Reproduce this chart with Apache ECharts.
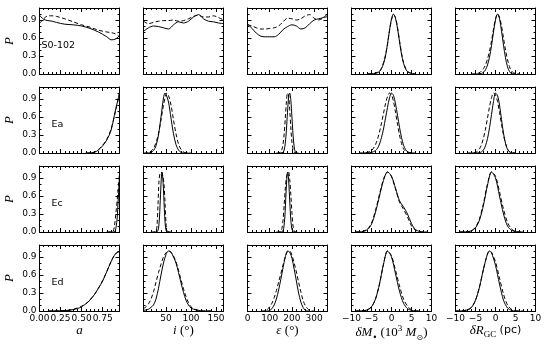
<!DOCTYPE html>
<html>
<head>
<meta charset="utf-8">
<script src="https://cdn.jsdelivr.net/npm/echarts@6/dist/echarts.min.js"></script>
<style>
  html, body { margin: 0; padding: 0; background: #fff; }
  #chart { width: 550px; height: 350px; }
</style>
</head>
<body>
<div id="chart"></div>
<script>
// 行标签
const rowNames = ['S0-102', 'Ea', 'Ec', 'Ed'];

// 各列坐标范围与刻度
const xMin = [0, 5, 0, -10, -10];
const xMax = [0.95, 165, 360, 10, 10];
const xTicks = [[0, 0.25, 0.5, 0.75], [50, 100, 150], [0, 100, 200, 300], [-10, -5, 0, 5, 10], [-10, -5, 0, 5, 10]];
const xMinorStep = [0.05, 10, 20, 1, 1];
const yTicks = [0, 0.3, 0.6, 0.9];
const yMinorStep = 0.1;

// S0-102
const s0_a_solid = [[0, 0.98], [0.05, 0.91], [0.1, 0.89], [0.15, 0.88], [0.2, 0.86], [0.3, 0.83], [0.4, 0.82], [0.5, 0.8], [0.6, 0.76], [0.7, 0.7], [0.8, 0.62], [0.85, 0.57], [0.9, 0.58], [0.95, 0.64]];
const s0_a_dash = [[0, 0.84], [0.05, 0.92], [0.1, 0.97], [0.15, 0.97], [0.2, 0.96], [0.3, 0.92], [0.4, 0.87], [0.5, 0.82], [0.6, 0.78], [0.7, 0.73], [0.8, 0.7], [0.85, 0.69], [0.9, 0.67], [0.95, 0.62]];
const s0_i_solid = [[5, 0.71], [15, 0.77], [25, 0.8], [35, 0.79], [45, 0.77], [55, 0.75], [65, 0.82], [75, 0.87], [85, 0.85], [95, 0.88], [105, 0.95], [115, 0.99], [125, 0.92], [135, 0.88], [145, 0.87], [155, 0.85], [165, 0.84]];
const s0_i_dash = [[5, 0.88], [15, 0.84], [25, 0.86], [35, 0.88], [45, 0.89], [55, 0.89], [65, 0.9], [75, 0.88], [85, 0.89], [95, 0.92], [105, 0.96], [115, 0.98], [125, 0.95], [135, 0.95], [145, 0.97], [155, 0.94], [165, 0.9]];
const s0_e_solid = [[0, 0.84], [20, 0.76], [40, 0.68], [60, 0.63], [80, 0.62], [100, 0.62], [120, 0.62], [140, 0.66], [160, 0.74], [180, 0.79], [200, 0.82], [220, 0.8], [240, 0.75], [260, 0.77], [280, 0.84], [300, 0.9], [320, 0.92], [340, 0.94], [360, 1.0]];
const s0_e_dash = [[0, 0.82], [20, 0.8], [40, 0.77], [60, 0.75], [80, 0.75], [100, 0.76], [120, 0.77], [140, 0.8], [160, 0.87], [180, 0.93], [200, 0.92], [220, 0.9], [240, 0.92], [260, 0.97], [280, 0.99], [300, 0.93], [320, 0.9], [340, 0.93], [360, 0.96]];
const s0_m_solid = [[-6, 0], [-5, 0.005], [-4, 0.01], [-3, 0.04], [-2.5, 0.09], [-2, 0.17], [-1.5, 0.3], [-1, 0.5], [-0.5, 0.73], [0, 0.92], [0.5, 1.0], [1, 0.93], [1.5, 0.76], [2, 0.54], [2.5, 0.33], [3, 0.18], [3.5, 0.09], [4, 0.04], [5, 0.01], [6, 0]];
const s0_m_dash = [[-6, 0], [-5, 0.005], [-4, 0.015], [-3, 0.05], [-2.5, 0.1], [-2, 0.19], [-1.5, 0.32], [-1, 0.5], [-0.5, 0.72], [0, 0.9], [0.5, 0.99], [1, 0.94], [1.5, 0.78], [2, 0.56], [2.5, 0.35], [3, 0.19], [3.5, 0.1], [4, 0.04], [5, 0.01], [6, 0]];
const s0_r_solid = [[-5, 0], [-4, 0.003], [-3.5, 0.01], [-3, 0.03], [-2.5, 0.07], [-2, 0.15], [-1.5, 0.28], [-1, 0.47], [-0.5, 0.7], [0, 0.9], [0.5, 1.0], [1, 0.92], [1.5, 0.72], [2, 0.48], [2.5, 0.27], [3, 0.12], [3.5, 0.04], [4, 0.01], [5, 0]];
const s0_r_dash = [[-6, 0], [-5, 0.005], [-4.5, 0.01], [-4, 0.02], [-3.5, 0.05], [-3, 0.09], [-2.5, 0.15], [-2, 0.25], [-1.5, 0.38], [-1, 0.55], [-0.5, 0.75], [0, 0.92], [0.5, 1.0], [1, 0.95], [1.5, 0.8], [2, 0.6], [2.5, 0.4], [3, 0.24], [3.5, 0.12], [4, 0.05], [4.5, 0.02], [5, 0.01], [6, 0]];

// Ea
const ea_a_solid = [[0.55, 0], [0.6, 0.002], [0.65, 0.01], [0.7, 0.05], [0.75, 0.12], [0.8, 0.22], [0.85, 0.38], [0.9, 0.7], [0.95, 1.0]];
const ea_a_dash = [[0.55, 0], [0.6, 0.003], [0.65, 0.015], [0.7, 0.06], [0.75, 0.13], [0.8, 0.23], [0.85, 0.4], [0.9, 0.68], [0.95, 0.99]];
const ea_i_solid = [[10, 0], [15, 0.002], [20, 0.01], [25, 0.04], [30, 0.12], [35, 0.3], [40, 0.6], [45, 0.92], [48, 1.0], [50, 0.98], [55, 0.85], [60, 0.58], [65, 0.32], [70, 0.14], [75, 0.05], [80, 0.01], [85, 0], [95, 0]];
const ea_i_dash = [[5, 0], [10, 0.003], [15, 0.01], [20, 0.03], [25, 0.08], [30, 0.17], [35, 0.33], [40, 0.55], [45, 0.8], [50, 0.98], [52, 1.0], [55, 0.96], [60, 0.8], [65, 0.55], [70, 0.32], [75, 0.15], [80, 0.06], [85, 0.02], [90, 0], [100, 0]];
const ea_e_solid = [[140, 0], [150, 0.002], [160, 0.01], [165, 0.05], [170, 0.16], [175, 0.38], [180, 0.68], [185, 0.93], [190, 1.0], [195, 0.88], [200, 0.6], [205, 0.3], [210, 0.1], [215, 0.02], [220, 0], [230, 0]];
const ea_e_dash = [[130, 0], [140, 0.002], [150, 0.02], [155, 0.06], [160, 0.15], [165, 0.32], [170, 0.58], [175, 0.85], [180, 1.0], [185, 0.95], [190, 0.72], [195, 0.42], [200, 0.18], [205, 0.06], [210, 0.01], [220, 0]];
const ea_m_solid = [[-7, 0], [-6, 0.003], [-5, 0.01], [-4, 0.04], [-3.5, 0.08], [-3, 0.15], [-2.5, 0.26], [-2, 0.4], [-1.5, 0.58], [-1, 0.76], [-0.5, 0.92], [0, 1.0], [0.5, 0.96], [1, 0.82], [1.5, 0.63], [2, 0.43], [2.5, 0.26], [3, 0.13], [3.5, 0.06], [4, 0.02], [5, 0.003], [6, 0]];
const ea_m_dash = [[-8, 0], [-7, 0.003], [-6, 0.01], [-5, 0.04], [-4.5, 0.08], [-4, 0.14], [-3.5, 0.23], [-3, 0.35], [-2.5, 0.5], [-2, 0.66], [-1.5, 0.82], [-1, 0.94], [-0.5, 1.0], [0, 0.97], [0.5, 0.86], [1, 0.68], [1.5, 0.48], [2, 0.3], [2.5, 0.16], [3, 0.07], [3.5, 0.03], [4, 0.01], [5, 0]];
const ea_r_solid = [[-6, 0], [-5, 0.002], [-4, 0.005], [-3.5, 0.02], [-3, 0.05], [-2.5, 0.12], [-2, 0.24], [-1.5, 0.42], [-1, 0.64], [-0.5, 0.86], [0, 1.0], [0.5, 0.96], [1, 0.8], [1.5, 0.56], [2, 0.33], [2.5, 0.16], [3, 0.06], [3.5, 0.02], [4, 0.003], [5, 0]];
const ea_r_dash = [[-7, 0], [-6, 0.003], [-5, 0.01], [-4.5, 0.03], [-4, 0.07], [-3.5, 0.14], [-3, 0.25], [-2.5, 0.4], [-2, 0.58], [-1.5, 0.77], [-1, 0.92], [-0.5, 1.0], [0, 0.97], [0.5, 0.86], [1, 0.68], [1.5, 0.48], [2, 0.3], [2.5, 0.16], [3, 0.07], [3.5, 0.02], [4, 0.01], [5, 0]];

// Ec
const ec_a_solid = [[0.8, 0], [0.88, 0], [0.9, 0.02], [0.92, 0.2], [0.935, 0.55], [0.95, 0.92]];
const ec_a_dash = [[0.8, 0], [0.86, 0], [0.875, 0.01], [0.89, 0.1], [0.91, 0.35], [0.93, 0.65], [0.95, 0.97]];
const ec_i_solid = [[25, 0], [30, 0], [33, 0.01], [35, 0.06], [37, 0.25], [39, 0.62], [41, 0.95], [42, 1.0], [43, 0.96], [45, 0.7], [47, 0.32], [49, 0.08], [51, 0.01], [55, 0], [60, 0]];
const ec_i_dash = [[20, 0], [26, 0], [30, 0.01], [32, 0.1], [34, 0.45], [36, 0.85], [38, 0.98], [40, 1.0], [42, 0.98], [44, 0.92], [46, 0.8], [48, 0.5], [50, 0.15], [52, 0.02], [56, 0], [60, 0]];
const ec_e_solid = [[140, 0], [150, 0], [158, 0.01], [163, 0.06], [168, 0.25], [173, 0.62], [178, 0.95], [181, 1.0], [184, 0.93], [189, 0.6], [194, 0.25], [199, 0.06], [204, 0.01], [210, 0], [220, 0]];
const ec_e_dash = [[130, 0], [140, 0], [150, 0.01], [155, 0.06], [160, 0.2], [165, 0.45], [170, 0.72], [175, 0.9], [180, 0.98], [185, 1.0], [190, 0.88], [195, 0.62], [200, 0.32], [205, 0.1], [210, 0.02], [215, 0], [225, 0]];
const ec_m_solid = [[-9, 0], [-8, 0.002], [-7, 0.01], [-6, 0.04], [-5, 0.13], [-4, 0.33], [-3, 0.6], [-2, 0.86], [-1, 1.0], [0, 0.93], [1, 0.73], [2, 0.52], [3, 0.42], [4, 0.3], [5, 0.14], [6, 0.04], [7, 0.01], [8, 0], [9, 0]];
const ec_m_dash = [[-9, 0], [-8, 0.003], [-7, 0.015], [-6, 0.05], [-5, 0.15], [-4, 0.36], [-3, 0.63], [-2, 0.88], [-1, 1.0], [0, 0.92], [1, 0.72], [2, 0.5], [3, 0.38], [4, 0.25], [5, 0.1], [6, 0.03], [7, 0.005], [8, 0]];
const ec_r_solid = [[-9, 0], [-8, 0.002], [-7, 0.005], [-6, 0.02], [-5, 0.07], [-4, 0.2], [-3, 0.45], [-2, 0.78], [-1, 1.0], [0, 0.9], [1, 0.6], [2, 0.3], [3, 0.1], [4, 0.03], [5, 0.005], [6, 0], [7, 0]];
const ec_r_dash = [[-9, 0], [-8, 0.002], [-7, 0.005], [-6, 0.02], [-5, 0.08], [-4, 0.22], [-3, 0.48], [-2, 0.8], [-1, 1.0], [0, 0.93], [1, 0.67], [2, 0.38], [3, 0.16], [4, 0.05], [5, 0.01], [6, 0], [7, 0]];

// Ed
const ed_a_solid = [[0.1, 0], [0.15, 0], [0.25, 0.003], [0.35, 0.01], [0.45, 0.04], [0.5, 0.07], [0.55, 0.12], [0.6, 0.18], [0.65, 0.27], [0.7, 0.38], [0.75, 0.5], [0.8, 0.66], [0.85, 0.82], [0.9, 0.95], [0.95, 1.0]];
const ed_a_dash = [[0.1, 0], [0.15, 0], [0.25, 0.005], [0.35, 0.015], [0.45, 0.05], [0.5, 0.08], [0.55, 0.12], [0.6, 0.19], [0.65, 0.27], [0.7, 0.38], [0.75, 0.51], [0.8, 0.66], [0.85, 0.83], [0.9, 0.95], [0.95, 0.99]];
const ed_i_solid = [[5, 0.01], [15, 0.03], [20, 0.06], [25, 0.1], [30, 0.2], [35, 0.38], [40, 0.6], [45, 0.8], [50, 0.94], [55, 1.0], [60, 0.98], [65, 0.9], [70, 0.8], [75, 0.64], [80, 0.47], [85, 0.31], [90, 0.18], [95, 0.1], [100, 0.05], [105, 0.03], [115, 0.01], [125, 0], [140, 0]];
const ed_i_dash = [[5, 0.04], [10, 0.07], [15, 0.12], [20, 0.2], [25, 0.32], [30, 0.48], [35, 0.64], [40, 0.78], [45, 0.9], [50, 0.97], [55, 1.0], [60, 0.98], [65, 0.92], [70, 0.82], [75, 0.68], [80, 0.52], [85, 0.37], [90, 0.24], [95, 0.14], [100, 0.07], [105, 0.04], [115, 0.01], [125, 0], [140, 0]];
const ed_e_solid = [[80, 0], [90, 0], [100, 0.01], [110, 0.04], [120, 0.1], [130, 0.2], [140, 0.35], [150, 0.53], [160, 0.72], [170, 0.9], [180, 1.0], [190, 0.98], [200, 0.88], [210, 0.7], [220, 0.5], [230, 0.3], [240, 0.15], [250, 0.06], [260, 0.015], [270, 0], [280, 0]];
const ed_e_dash = [[60, 0], [70, 0], [80, 0.01], [90, 0.03], [100, 0.07], [110, 0.13], [120, 0.22], [130, 0.34], [140, 0.48], [150, 0.62], [160, 0.77], [170, 0.9], [180, 0.99], [190, 1.0], [200, 0.93], [210, 0.8], [220, 0.65], [230, 0.48], [240, 0.32], [250, 0.18], [260, 0.09], [270, 0.04], [280, 0.01], [290, 0], [300, 0]];
const ed_m_solid = [[-9, 0], [-8, 0.002], [-7, 0.005], [-6, 0.02], [-5, 0.07], [-4, 0.2], [-3, 0.45], [-2, 0.78], [-1, 1.0], [0, 0.9], [1, 0.62], [2, 0.33], [3, 0.13], [4, 0.04], [5, 0.01], [6, 0], [7, 0]];
const ed_m_dash = [[-9, 0], [-8, 0.002], [-7, 0.005], [-6, 0.02], [-5, 0.07], [-4, 0.2], [-3, 0.45], [-2, 0.78], [-1, 1.0], [0, 0.92], [1, 0.68], [2, 0.42], [3, 0.2], [4, 0.08], [5, 0.02], [6, 0.003], [7, 0]];
const ed_r_solid = [[-10, 0], [-9, 0], [-8, 0.005], [-7, 0.02], [-6, 0.06], [-5, 0.18], [-4, 0.4], [-3, 0.7], [-2, 0.95], [-1.5, 1.0], [-1, 0.97], [0, 0.76], [1, 0.45], [2, 0.18], [3, 0.05], [4, 0.01], [5, 0], [6, 0]];
const ed_r_dash = [[-10, 0], [-9, 0], [-8, 0.005], [-7, 0.02], [-6, 0.06], [-5, 0.18], [-4, 0.4], [-3, 0.7], [-2, 0.95], [-1.5, 1.0], [-1, 0.98], [0, 0.82], [1, 0.55], [2, 0.28], [3, 0.1], [4, 0.03], [5, 0.005], [6, 0], [7, 0]];

const panels = [
  [[s0_a_solid, s0_a_dash], [s0_i_solid, s0_i_dash], [s0_e_solid, s0_e_dash], [s0_m_solid, s0_m_dash], [s0_r_solid, s0_r_dash]],
  [[ea_a_solid, ea_a_dash], [ea_i_solid, ea_i_dash], [ea_e_solid, ea_e_dash], [ea_m_solid, ea_m_dash], [ea_r_solid, ea_r_dash]],
  [[ec_a_solid, ec_a_dash], [ec_i_solid, ec_i_dash], [ec_e_solid, ec_e_dash], [ec_m_solid, ec_m_dash], [ec_r_solid, ec_r_dash]],
  [[ed_a_solid, ed_a_dash], [ed_i_solid, ed_i_dash], [ed_e_solid, ed_e_dash], [ed_m_solid, ed_m_dash], [ed_r_solid, ed_r_dash]]
];

// 坐标轴名称(富文本)
const xNames = [
  '{it|a}',
  '{it|i} {rm|(°)}',
  '{it|ε} {rm|(°)}',
  '{it|δM}{sub|•} {rm|(10}{sup|3} {it|M}{sub|⊙}{rm|)}',
  '{it|δR}{subrm|GC} {sans|(pc)}'
];
const nameRich = {
  it: { fontFamily: 'Liberation Serif', fontStyle: 'italic', fontSize: 13, color: '#000', lineHeight: 18 },
  rm: { fontFamily: 'Liberation Serif', fontSize: 13, color: '#000', lineHeight: 18 },
  sans: { fontFamily: 'DejaVu Sans', fontSize: 11, color: '#000', lineHeight: 18 },
  sub: { fontFamily: 'DejaVu Sans', fontSize: 8, color: '#000', verticalAlign: 'bottom' },
  subrm: { fontFamily: 'Liberation Serif', fontSize: 9, color: '#000', verticalAlign: 'bottom' },
  sup: { fontFamily: 'Liberation Serif', fontSize: 9, color: '#000', verticalAlign: 'top' }
};

function minorTicks(min, max, step, majors) {
  const out = [];
  for (let k = Math.ceil(min / step - 1e-9); k * step <= max + 1e-9; k++) {
    const v = Math.round(k * step * 1000) / 1000;
    if (!majors.some(m => Math.abs(m - v) < 1e-6)) out.push(v);
  }
  return out;
}

function fmtTick(c) {
  return function (v) {
    if (c === 0) return v.toFixed(2);
    return String(v).replace('-', '\u2212');
  };
}

function makeAxis(opts) {
  return {
    type: 'value',
    gridIndex: opts.grid,
    position: opts.position,
    min: opts.min,
    max: opts.max,
    axisLine: { show: opts.line, onZero: false, lineStyle: { color: '#000', width: 1 } },
    axisTick: { show: true, inside: true, length: opts.len, customValues: opts.ticks, lineStyle: { color: '#000', width: 1 } },
    axisLabel: opts.label ? {
      show: true,
      customValues: opts.ticks,
      formatter: opts.fmt,
      color: '#000',
      fontFamily: 'DejaVu Sans',
      fontSize: 9,
      margin: 3
    } : { show: false },
    splitLine: { show: false },
    name: opts.name || '',
    nameLocation: 'middle',
    nameGap: opts.nameGap || 0,
    nameRotate: opts.nameRotate,
    nameTextStyle: opts.nameStyle || {},
    silent: true
  };
}

const grids = [];
const xAxes = [];
const yAxes = [];
const series = [];
const texts = [];

const yMinor = minorTicks(0, 1.1, yMinorStep, yTicks);

for (let r = 0; r < 4; r++) {
  for (let c = 0; c < 5; c++) {
    const g = grids.length;
    const left = 39.5 + c * 104;
    const top = 8 + r * 79;
    grids.push({ left: left, top: top, width: 80, height: 66 });

    const xm = minorTicks(xMin[c], xMax[c], xMinorStep[c], xTicks[c]);
    const bottomRow = r === 3;
    const firstCol = c === 0;

    xAxes.push(makeAxis({
      grid: g, position: 'bottom', min: xMin[c], max: xMax[c], ticks: xTicks[c], len: 4, line: true,
      label: bottomRow, fmt: fmtTick(c),
      name: bottomRow ? xNames[c] : '', nameGap: 7,
      nameStyle: { rich: nameRich, color: '#000', verticalAlign: 'top' }
    }));
    xAxes.push(makeAxis({ grid: g, position: 'bottom', min: xMin[c], max: xMax[c], ticks: xm, len: 2, line: false }));
    xAxes.push(makeAxis({ grid: g, position: 'top', min: xMin[c], max: xMax[c], ticks: xTicks[c], len: 4, line: true }));
    xAxes.push(makeAxis({ grid: g, position: 'top', min: xMin[c], max: xMax[c], ticks: xm, len: 2, line: false }));

    yAxes.push(makeAxis({
      grid: g, position: 'left', min: 0, max: 1.1, ticks: yTicks, len: 4, line: true,
      label: firstCol, fmt: function (v) { return v.toFixed(1); },
      name: firstCol ? 'P' : '', nameGap: 23, nameRotate: 90,
      nameStyle: { fontFamily: 'Liberation Serif', fontStyle: 'italic', fontSize: 13, color: '#000' }
    }));
    yAxes.push(makeAxis({ grid: g, position: 'left', min: 0, max: 1.1, ticks: yMinor, len: 2, line: false }));
    yAxes.push(makeAxis({ grid: g, position: 'right', min: 0, max: 1.1, ticks: yTicks, len: 4, line: true }));
    yAxes.push(makeAxis({ grid: g, position: 'right', min: 0, max: 1.1, ticks: yMinor, len: 2, line: false }));

    const pair = panels[r][c];
    series.push({
      type: 'line', xAxisIndex: g * 4, yAxisIndex: g * 4, data: pair[0],
      showSymbol: false, smooth: 0.3, clip: true, silent: true,
      lineStyle: { color: '#000', width: 1 }
    });
    series.push({
      type: 'line', xAxisIndex: g * 4, yAxisIndex: g * 4, data: pair[1],
      showSymbol: false, smooth: 0.3, clip: true, silent: true,
      lineStyle: { color: '#000', width: 1, type: [4, 2.5] }
    });

    if (c === 0) {
      texts.push({
        type: 'text', left: left + 2 + (r === 0 ? 0 : 10), top: top + 33,
        style: { text: rowNames[r], fill: '#000', font: '9.5px "DejaVu Sans"' }
      });
    }
  }
}

const chart = echarts.init(document.getElementById('chart'), null, { renderer: 'canvas' });
chart.setOption({
  animation: false,
  backgroundColor: '#fff',
  grid: grids,
  xAxis: xAxes,
  yAxis: yAxes,
  series: series,
  graphic: texts
});
</script>
</body>
</html>
